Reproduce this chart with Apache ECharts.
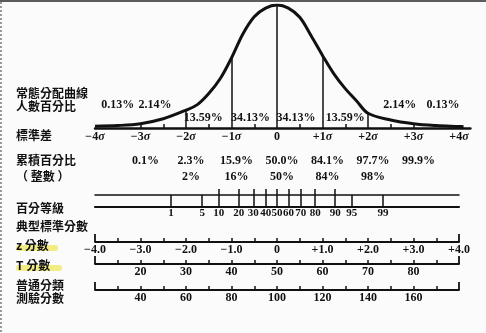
<!DOCTYPE html>
<html><head><meta charset="utf-8">
<script src="https://cdn.jsdelivr.net/npm/echarts@6/dist/echarts.min.js"></script>
<style>html,body{margin:0;padding:0;background:#fbfbfb}#c{width:486px;height:333px}</style>
</head><body><div id="c"></div>
<script>
// ---------- data ----------
const sigmaValues = [-4, -3, -2, -1, 0, 1, 2, 3, 4];
const sigmaNums = ['−4', '−3', '−2', '−1', '0', '+1', '+2', '+3', '+4'];
const sigmaMinorTicks = [-3, -2.5, -1.5, -0.5, 0.5, 1.5, 2.5, 3];
// normal curve, height relative to peak
const curveZ = [-4, -3.5, -3, -2.5, -2, -1.75, -1.5, -1.25, -1, -0.75, -0.5, -0.25, 0, 0.25, 0.5, 0.75, 1, 1.25, 1.5, 1.75, 2, 2.5, 3, 3.5, 4, 4.1];
const curveH = [0.015, 0.02, 0.035, 0.075, 0.145, 0.19, 0.28, 0.40, 0.57, 0.765, 0.905, 0.975, 1, 0.975, 0.9, 0.75, 0.59, 0.44, 0.32, 0.22, 0.12, 0.065, 0.035, 0.02, 0.012, 0.01];
const dividerZ = [-2, -1, 0, 1, 2];
const dividerH = [0.145, 0.57, 1, 0.59, 0.12];
// percentage of cases under portions of the curve
const areaPctTop = ['0.13%', '2.14%', '2.14%', '0.13%'];
const areaPctTopZ = [-3.5, -2.68, 2.7, 3.65];
const areaPctMid = ['13.59%', '34.13%', '34.13%', '13.59%'];
const areaPctMidZ = [-1.62, -0.58, 0.42, 1.5];
// cumulative percentages
const cumZ = [-3, -2, -1, 0, 1, 2, 3];
const cumPct = ['0.1%', '2.3%', '15.9%', '50.0%', '84.1%', '97.7%', '99.9%'];
const roundZ = [-2, -1, 0, 1, 2];
const roundPct = ['2%', '16%', '50%', '84%', '98%'];
// percentile ranks
const percentileRanks = [1, 5, 10, 20, 30, 40, 50, 60, 70, 80, 90, 95, 99];
const percentileZ = [-2.33, -1.645, -1.28, -0.84, -0.52, -0.25, 0, 0.25, 0.52, 0.84, 1.28, 1.645, 2.33];
const percentileTallZ = [-1.28, -0.84, -0.52, -0.25, 0, 0.25, 0.52, 0.84, 1.28];
// z scores
const zTicks = [-3.5, -3, -2.5, -2, -1.5, -1, -0.5, 0, 0.5, 1, 1.5, 2, 2.5, 3, 3.5];
const zLabelVals = [-4, -3, -2, -1, 0, 1, 2, 3, 4];
const zLabels = ['−4.0', '−3.0', '−2.0', '−1.0', '0', '+1.0', '+2.0', '+3.0', '+4.0'];
// T scores
const tTicks = [15, 20, 25, 30, 35, 40, 45, 50, 55, 60, 65, 70, 75, 80, 85];
const tLabelVals = [20, 30, 40, 50, 60, 70, 80];
// AGCT scores
const agTicks = [30, 40, 50, 60, 70, 80, 90, 100, 110, 120, 130, 140, 150, 160, 170];
const agLabelVals = [40, 60, 80, 100, 120, 140, 160];
// left row titles
const rowTitles = ['常態分配曲線', '人數百分比', '標準差', '累積百分比', '（ 整數 ）', '百分等級', '典型標準分數', 'z 分數', 'T 分數', '普通分類', '測驗分數'];
const rowTitleY = [95, 108, 137, 162, 178, 210, 228, 247, 267, 287, 300];

// ---------- layout ----------
const U = 45.5, X0 = 277;
const serif = "'Liberation Serif','DejaVu Serif',serif";
const cjk = "'Noto Sans CJK TC','Noto Sans CJK SC',sans-serif";
const INK = '#111';
const grids = [], xAxes = [], yAxes = [], series = [];
function idx(arr, v) { let b = 0, d = 1e9; arr.forEach((a, i) => { if (Math.abs(a - v) < d) { d = Math.abs(a - v); b = i; } }); return b; }
function addGrid(a, b, top, height) {
  grids.push({ left: X0 + a * U, width: (b - a) * U, top: top, height: height, containLabel: false, outerBoundsMode: 'none' });
  const gi = grids.length - 1;
  yAxes.push({ type: 'value', gridIndex: gi, min: 0, max: 1, show: false });
  return gi;
}
function addX(gi, min, max, opt) {
  xAxes.push(Object.assign({ type: 'value', gridIndex: gi, min: min, max: max, position: 'bottom',
    splitLine: { show: false }, axisLine: { show: false }, axisTick: { show: false }, axisLabel: { show: false } }, opt));
  return xAxes.length - 1;
}
function txt(extra) {
  return Object.assign({ show: true, color: INK, fontFamily: serif, fontSize: 12, fontWeight: 'bold', showMinLabel: true, showMaxLabel: true, hideOverlap: false }, extra);
}
function labelRow(centerY, values, texts, extra) {
  const gi = addGrid(-4, 4, centerY - 8, 1);
  addX(gi, -4, 4, { axisLabel: txt(Object.assign({ margin: 0, customValues: values, formatter: v => texts[idx(values, v)] }, extra)) });
}
function scaleAxis(lineY, min, max, ticks, labelVals, labelTexts) {
  const gi = addGrid(-4, 4, lineY - 10, 10);
  addX(gi, min, max, {
    axisLine: { show: true, lineStyle: { color: INK, width: 1.8 } },
    axisTick: { show: true, inside: true, length: 4, customValues: ticks, lineStyle: { color: INK, width: 1.5 } },
    axisLabel: txt({ margin: 2, customValues: labelVals, formatter: v => labelTexts[idx(labelVals, v)] })
  });
  addX(gi, min, max, {
    axisTick: { show: true, inside: true, length: 8, customValues: [min, max], lineStyle: { color: INK, width: 1.8 } }
  });
}

// curve grid
const gCurve = addGrid(-4, 4.25, 5, 123);
const xCurve = addX(gCurve, -4, 4.25, {
  axisLine: { show: true, lineStyle: { color: INK, width: 2.5 } },
  axisTick: { show: true, inside: true, length: 4, customValues: sigmaMinorTicks, lineStyle: { color: INK, width: 1.5 } },
  axisLabel: txt({ margin: 3, customValues: sigmaValues,
    formatter: v => { const i = idx(sigmaValues, v); return '{n|' + sigmaNums[i] + '}' + (sigmaValues[i] === 0 ? '' : '{s|σ}'); },
    rich: { n: { fontFamily: serif, fontSize: 12, fontWeight: 'bold', color: INK }, s: { fontFamily: serif, fontSize: 12, fontStyle: 'italic', fontWeight: 'bold', color: INK } } })
});
series.push({
  type: 'line', xAxisIndex: xCurve, yAxisIndex: gCurve, smooth: 0.35, symbol: 'none', silent: true,
  data: curveZ.map((z, i) => [z, curveH[i]]), lineStyle: { color: INK, width: 3 },
  markLine: { silent: true, symbol: 'none', label: { show: false }, lineStyle: { color: INK, width: 1.5, type: 'solid' },
    data: dividerZ.map((z, i) => [{ coord: [z, 0] }, { coord: [z, dividerH[i]] }]) },
  z: 3
});

// label rows
labelRow(106, areaPctTopZ, areaPctTop);
labelRow(119, areaPctMidZ, areaPctMid);
labelRow(162, cumZ, cumPct, { padding: [0, 0, 0, 10] });
labelRow(178, roundZ, roundPct, { padding: [0, 0, 0, 10] });

// percentile band
const gBand = addGrid(-4, 4, 195, 12);
addX(gBand, -4, 4, {
  axisLine: { show: true, lineStyle: { color: INK, width: 2.2 } },
  axisTick: { show: true, inside: true, length: 12, customValues: percentileZ, lineStyle: { color: INK, width: 1.5 } },
  axisLabel: txt({ margin: 1, fontSize: 11, customValues: percentileZ, formatter: v => String(percentileRanks[idx(percentileZ, v)]) })
});
addX(gBand, -4, 4, {
  position: 'top',
  axisLine: { show: true, lineStyle: { color: INK, width: 1.5 } },
  axisTick: { show: true, inside: false, length: 6, customValues: percentileTallZ, lineStyle: { color: INK, width: 1.5 } }
});

// score scales
scaleAxis(242, -4, 4, zTicks, zLabelVals, zLabels);
scaleAxis(264, 10, 90, tTicks, tLabelVals, tLabelVals.map(String));
scaleAxis(290, 20, 180, agTicks, agLabelVals, agLabelVals.map(String));

// graphics: titles, highlights, border
const graphic = [
  { type: 'rect', shape: { x: 0, y: 0, width: 486, height: 2 }, style: { fill: '#5c5c5c' }, silent: true },
  { type: 'line', shape: { x1: 1, y1: 2, x2: 1, y2: 333 }, style: { stroke: '#9a9a9a', lineWidth: 2, lineDash: [2, 2] }, silent: true },
  { type: 'rect', shape: { x: 16, y: 245, width: 42, height: 6, r: 3 }, style: { fill: 'rgba(236,226,50,0.6)' }, silent: true, z: -1 },
  { type: 'rect', shape: { x: 16, y: 265, width: 46, height: 6, r: 3 }, style: { fill: 'rgba(236,226,50,0.6)' }, silent: true, z: -1 }
];
rowTitles.forEach((t, i) => {
  graphic.push({ type: 'text', left: 16, top: rowTitleY[i] - 8, silent: true, z: 10,
    style: { text: t, fill: INK, font: 'bold 12px ' + cjk } });
});

const chart = echarts.init(document.getElementById('c'), null, { renderer: 'canvas' });
chart.setOption({
  backgroundColor: '#fbfbfb',
  animation: false,
  grid: grids, xAxis: xAxes, yAxis: yAxes, series: series, graphic: graphic
});
</script></body></html>
